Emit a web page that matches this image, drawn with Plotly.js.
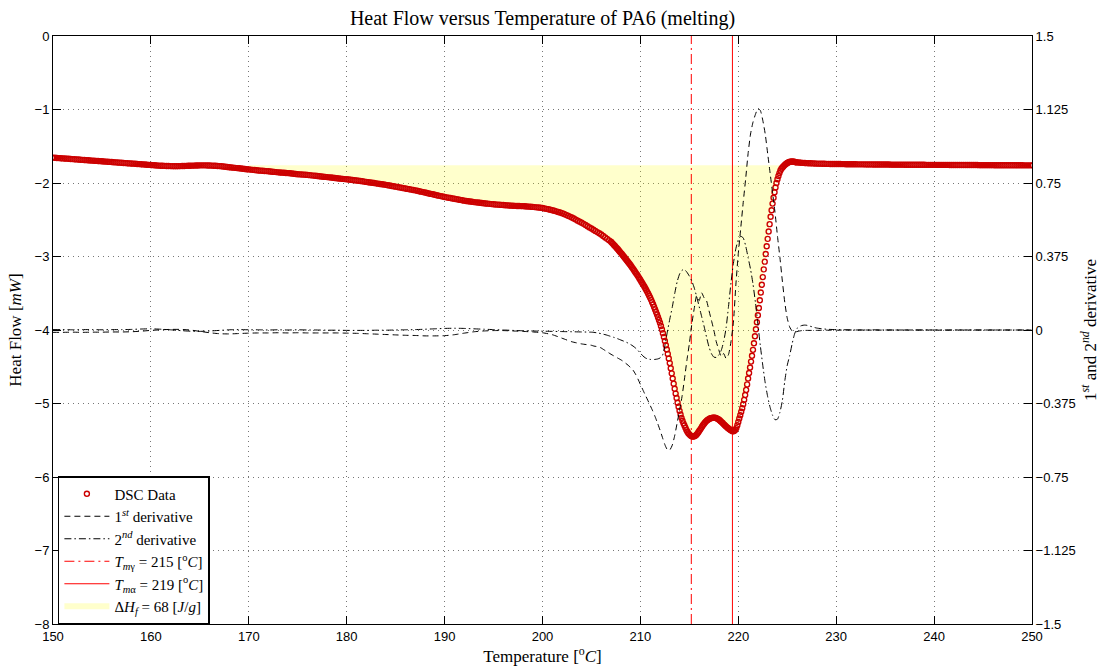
<!DOCTYPE html>
<html><head><meta charset="utf-8">
<script src="https://cdn.plot.ly/plotly-3.0.1.min.js"></script>
<style>html,body{margin:0;padding:0;background:#fff}#chart{width:1100px;height:666px}</style>
</head><body><div id="chart"></div>
<script>
// ---------- DSC heat flow [mW] ----------
// segment A: 150.0 -> 206.8 step 0.2
const dscStartA = 150, dscStepA = 0.2;
const dscHF_A = [
-1.655,-1.657,-1.659,-1.661,-1.663, -1.665,-1.667,-1.669,-1.671,-1.673,
-1.675,-1.677,-1.679,-1.681,-1.683, -1.685,-1.687,-1.689,-1.691,-1.693,
-1.695,-1.697,-1.699,-1.701,-1.703, -1.705,-1.707,-1.709,-1.711,-1.713,
-1.715,-1.717,-1.719,-1.721,-1.723, -1.725,-1.727,-1.729,-1.731,-1.733,
-1.735,-1.737,-1.739,-1.741,-1.743, -1.745,-1.747,-1.749,-1.751,-1.753,
-1.755,-1.757,-1.759,-1.761,-1.763, -1.765,-1.766,-1.767,-1.768,-1.769,
-1.770,-1.771,-1.771,-1.771,-1.771, -1.770,-1.769,-1.768,-1.767,-1.766,
-1.765,-1.764,-1.763,-1.762,-1.761, -1.760,-1.760,-1.760,-1.760,-1.761,
-1.762,-1.763,-1.765,-1.766,-1.768, -1.770,-1.773,-1.776,-1.779,-1.782,
-1.785,-1.788,-1.791,-1.794,-1.797, -1.800,-1.803,-1.806,-1.809,-1.812,
-1.815,-1.818,-1.821,-1.824,-1.827, -1.830,-1.832,-1.834,-1.836,-1.838,
-1.840,-1.843,-1.846,-1.849,-1.852, -1.855,-1.857,-1.859,-1.861,-1.863,
-1.865,-1.868,-1.871,-1.874,-1.877, -1.880,-1.882,-1.884,-1.886,-1.888,
-1.890,-1.893,-1.896,-1.899,-1.902, -1.905,-1.908,-1.911,-1.914,-1.917,
-1.920,-1.923,-1.926,-1.929,-1.932, -1.935,-1.938,-1.941,-1.944,-1.947,
-1.950,-1.953,-1.956,-1.959,-1.962, -1.965,-1.969,-1.973,-1.977,-1.981,
-1.985,-1.989,-1.993,-1.997,-2.001, -2.005,-2.009,-2.013,-2.017,-2.021,
-2.025,-2.030,-2.035,-2.040,-2.045, -2.050,-2.055,-2.060,-2.065,-2.070,
-2.075,-2.080,-2.085,-2.090,-2.095, -2.100,-2.106,-2.112,-2.118,-2.124,
-2.130,-2.136,-2.142,-2.148,-2.154, -2.160,-2.166,-2.172,-2.178,-2.184,
-2.190,-2.195,-2.200,-2.205,-2.210, -2.215,-2.220,-2.225,-2.230,-2.235,
-2.240,-2.244,-2.248,-2.252,-2.256, -2.260,-2.263,-2.266,-2.269,-2.272,
-2.275,-2.278,-2.281,-2.284,-2.287, -2.290,-2.292,-2.294,-2.296,-2.298,
-2.300,-2.302,-2.304,-2.306,-2.308, -2.310,-2.311,-2.312,-2.313,-2.314,
-2.315,-2.317,-2.319,-2.321,-2.323, -2.325,-2.328,-2.331,-2.334,-2.337,
-2.340,-2.346,-2.352,-2.358,-2.364, -2.370,-2.378,-2.386,-2.394,-2.402,
-2.410,-2.421,-2.433,-2.445,-2.457, -2.470,-2.484,-2.498,-2.512,-2.526,
-2.540,-2.556,-2.572,-2.588,-2.604, -2.620,-2.636,-2.652,-2.668,-2.684,
-2.700,-2.720,-2.740,-2.760,-2.780
];
// segment B: 207.0 -> 225.9 step 0.1
const dscStartB = 207, dscStepB = 0.1;
const dscHF_B = [
-2.800,-2.814,-2.828,-2.842,-2.857,-2.872,-2.887,-2.902,-2.918,-2.934,
-2.950,-2.966,-2.983,-3.000,-3.017,-3.034,-3.051,-3.068,-3.085,-3.102,
-3.120,-3.139,-3.158,-3.177,-3.196,-3.216,-3.236,-3.256,-3.277,-3.298,
-3.320,-3.342,-3.364,-3.386,-3.409,-3.432,-3.456,-3.481,-3.507,-3.533,
-3.560,-3.590,-3.621,-3.653,-3.686,-3.720,-3.755,-3.790,-3.826,-3.863,
-3.900,-3.945,-3.993,-4.043,-4.095,-4.150,-4.207,-4.265,-4.325,-4.387,
-4.450,-4.520,-4.590,-4.660,-4.730,-4.800,-4.865,-4.925,-4.990,-5.045,
-5.100,-5.150,-5.195,-5.235,-5.270,-5.300,-5.330,-5.360,-5.385,-5.405,
-5.420,-5.433,-5.443,-5.449,-5.450,-5.447,-5.440,-5.428,-5.413,-5.395,
-5.375,-5.355,-5.335,-5.313,-5.293,-5.275,-5.258,-5.243,-5.230,-5.220,
-5.212,-5.205,-5.200,-5.196,-5.194,-5.193,-5.194,-5.197,-5.202,-5.209,
-5.218,-5.228,-5.240,-5.253,-5.266,-5.280,-5.293,-5.306,-5.318,-5.330,
-5.340,-5.350,-5.360,-5.368,-5.376,-5.377,-5.370,-5.356,-5.335,-5.296,
-5.250,-5.205,-5.160,-5.113,-5.063,-5.010,-4.950,-4.885,-4.815,-4.740,
-4.660,-4.585,-4.510,-4.430,-4.350,-4.270,-4.180,-4.085,-3.990,-3.895,
-3.800,-3.700,-3.595,-3.490,-3.385,-3.280,-3.175,-3.070,-2.965,-2.860,
-2.760,-2.660,-2.560,-2.460,-2.370,-2.280,-2.200,-2.125,-2.060,-2.000,
-1.950,-1.905,-1.865,-1.830,-1.805,-1.790,-1.775,-1.760,-1.748,-1.738,
-1.728,-1.720,-1.715,-1.711,-1.709,-1.708,-1.709,-1.711,-1.714,-1.717
];
// segment C: 226.0 -> 250.0 step 0.2
const dscStartC = 226, dscStepC = 0.2;
const dscHF_C = [
-1.720,-1.722,-1.724,-1.726,-1.728, -1.730,-1.731,-1.732,-1.733,-1.734,
-1.736,-1.737,-1.737,-1.738,-1.739, -1.740,-1.740,-1.741,-1.741,-1.741,
-1.742,-1.742,-1.742,-1.743,-1.743, -1.744,-1.744,-1.744,-1.745,-1.745,
-1.745,-1.746,-1.746,-1.746,-1.746, -1.747,-1.747,-1.747,-1.747,-1.748,
-1.748,-1.748,-1.748,-1.749,-1.749, -1.749,-1.749,-1.749,-1.750,-1.750,
-1.750,-1.750,-1.750,-1.750,-1.750, -1.751,-1.751,-1.751,-1.751,-1.751,
-1.752,-1.752,-1.752,-1.752,-1.752, -1.752,-1.753,-1.753,-1.753,-1.753,
-1.753,-1.753,-1.754,-1.754,-1.754, -1.754,-1.754,-1.754,-1.755,-1.755,
-1.755,-1.755,-1.755,-1.755,-1.755, -1.755,-1.756,-1.756,-1.756,-1.756,
-1.756,-1.756,-1.756,-1.757,-1.757, -1.757,-1.757,-1.757,-1.757,-1.757,
-1.757,-1.758,-1.758,-1.758,-1.758, -1.758,-1.758,-1.758,-1.759,-1.759,
-1.759,-1.759,-1.759,-1.759,-1.759, -1.759,-1.760,-1.760,-1.760,-1.760,
-1.760
];

// ---------- derivatives (right axis) ----------
// A: 150 -> 205 step 1 ; B: 205.25 -> 227 step 0.25 ; C: 228 -> 250 step 1
const derStartA = 150, derStepA = 1;
const derStartB = 205.25, derStepB = 0.25;
const derStartC = 228, derStepC = 1;
const deriv1_A = [
-0.012,-0.012,-0.011,-0.012,-0.011,-0.011,-0.010,-0.010,-0.009,-0.006,
-0.002,0.001,0.003,0.003,0.000,-0.007,-0.014,-0.019,-0.020,-0.018,
-0.016,-0.015,-0.015,-0.014,-0.015,-0.014,-0.015,-0.015,-0.015,-0.015,
-0.016,-0.017,-0.019,-0.021,-0.023,-0.025,-0.027,-0.028,-0.030,-0.030,
-0.029,-0.024,-0.016,-0.009,-0.005,-0.003,-0.003,-0.005,-0.007,-0.010,
-0.014,-0.024,-0.042,-0.060,-0.071,-0.078
];
const deriv1_B = [
-0.082,-0.084,-0.086,-0.092,
-0.100,-0.108,-0.116,-0.124,
-0.131,-0.138,-0.145,-0.152,
-0.160,-0.170,-0.180,-0.192,
-0.205,-0.225,-0.250,-0.278,
-0.305,-0.332,-0.358,-0.385,
-0.412,-0.442,-0.475,-0.510,
-0.548,-0.585,-0.610,-0.612,
-0.588,-0.540,-0.475,-0.410,
-0.340,-0.250,-0.155,-0.070,
0.030,0.110,0.175,0.150,
0.190,0.165,0.150,0.100,
0.050,0.000,-0.060,-0.100,
-0.135,-0.120,-0.145,-0.125,
-0.060,0.040,0.230,0.390,
0.520,0.650,0.770,0.900,
1.000,1.060,1.100,1.130,
1.120,1.070,1.000,0.900,
0.800,0.700,0.600,0.480,
0.370,0.250,0.140,0.060,
0.015,-0.005,-0.010,-0.008,
-0.005,-0.003,-0.002,-0.002
];
const deriv1_C = [
-0.002,-0.001,-0.001,0.000,0.000,0.000,-0.001,0.000,0.000,0.000,
0.000,0.000,0.000,-0.001,0.000,0.000,0.000,0.000,0.000,0.000,
0.000,0.000,0.000
];
const deriv2_A = [
0.002,0.002,0.001,0.002,0.002,0.001,0.002,0.002,0.003,0.005,
0.006,0.004,0.001,-0.003,-0.006,-0.007,-0.005,-0.002,0.001,0.002,
0.001,0.001,0.000,0.001,0.000,0.001,0.000,0.000,-0.001,-0.001,
-0.002,-0.002,-0.002,-0.001,-0.001,0.000,0.001,0.002,0.004,0.006,
0.008,0.009,0.008,0.006,0.004,0.002,0.000,-0.002,-0.004,-0.005,
-0.006,-0.007,-0.008,-0.009,-0.010,-0.011
];
const deriv2_B = [
-0.012,-0.014,-0.016,-0.019,
-0.022,-0.025,-0.029,-0.033,
-0.037,-0.041,-0.046,-0.051,
-0.056,-0.061,-0.067,-0.074,
-0.082,-0.092,-0.104,-0.118,
-0.132,-0.142,-0.148,-0.150,
-0.151,-0.150,-0.148,-0.143,
-0.130,-0.080,-0.010,0.055,
0.115,0.185,0.245,0.285,
0.305,0.308,0.295,0.275,
0.250,0.215,0.170,0.120,
0.070,0.020,-0.035,-0.085,
-0.120,-0.138,-0.140,-0.128,
-0.105,-0.060,0.010,0.120,
0.240,0.340,0.415,0.460,
0.478,0.470,0.430,0.370,
0.310,0.235,0.140,0.030,
-0.080,-0.180,-0.270,-0.340,
-0.395,-0.435,-0.458,-0.455,
-0.420,-0.360,-0.260,-0.180,
-0.130,-0.070,-0.020,0.008,
0.018,0.023,0.025,0.024
];
const deriv2_C = [
0.010,0.004,0.002,0.001,0.000,0.000,0.001,0.000,0.000,0.000,
0.000,0.000,0.000,0.000,0.000,0.000,0.000,0.000,0.000,0.000,
0.000,0.000,0.000
];

// ---------- analysis results ----------
const meltTempGamma = 215.2;   // T_m,gamma [°C]
const meltTempAlpha = 219.4;   // T_m,alpha [°C]
const enthalpyFusion = 68;     // ΔH_f [J/g]
const fillStartT = 170, fillEndT = 225, fillBaseHF = -1.76;
const heatFlowRange = [-8, 0];
const derivRange = [-1.5, 1.5];
const derivTicks = [-1.5, -1.125, -0.75, -0.375, 0, 0.375, 0.75, 1.125, 1.5];

function grid(start, step, n) {
  return Array.from({length: n}, (_, i) => +(start + i * step).toFixed(4));
}
const dscT = [].concat(grid(dscStartA, dscStepA, dscHF_A.length),
                       grid(dscStartB, dscStepB, dscHF_B.length),
                       grid(dscStartC, dscStepC, dscHF_C.length));
const dscHF = [].concat(dscHF_A, dscHF_B, dscHF_C);
const derT = [].concat(grid(derStartA, derStepA, deriv1_A.length),
                       grid(derStartB, derStepB, deriv1_B.length),
                       grid(derStartC, derStepC, deriv1_C.length));
const deriv1 = [].concat(deriv1_A, deriv1_B, deriv1_C);
const deriv2 = [].concat(deriv2_A, deriv2_B, deriv2_C);

// fill polygon between curve and baseline
const fx = [], fy = [];
dscT.forEach((t, i) => { if (t >= fillStartT && t <= fillEndT) { fx.push(t); fy.push(dscHF[i]); } });
fx.push(fillEndT, fillStartT); fy.push(fillBaseHF, fillBaseHF);

const serif = 'Liberation Serif, DejaVu Serif, serif';
const sans = 'Liberation Sans, Arial, sans-serif';
const red = '#ff0000';

const traces = [
  {x: fx, y: fy, type: 'scatter', mode: 'none', fill: 'toself',
   fillcolor: 'rgba(255,255,0,0.2)', legendrank: 6,
   name: 'Δ<i>H<sub>f</sub></i> = ' + enthalpyFusion + ' [<i>J</i>/<i>g</i>]'},
  {x: [meltTempGamma, meltTempGamma], y: heatFlowRange, type: 'scatter', mode: 'lines',
   line: {color: red, width: 1, dash: '10px,4px,2px,4px'}, legendrank: 4,
   name: '<i>T</i><sub><i>m</i>γ</sub> = ' + Math.round(meltTempGamma) + ' [<sup>o</sup><i>C</i>]'},
  {x: [meltTempAlpha, meltTempAlpha], y: heatFlowRange, type: 'scatter', mode: 'lines',
   line: {color: red, width: 1}, legendrank: 5,
   name: '<i>T</i><sub><i>m</i>α</sub> = ' + Math.round(meltTempAlpha) + ' [<sup>o</sup><i>C</i>]'},
  {x: dscT, y: dscHF, type: 'scatter', mode: 'markers', name: 'DSC Data', legendrank: 1,
   marker: {symbol: 'circle-open', size: 5, color: '#cc0000', line: {width: 1.4, color: '#cc0000'}}},
  {x: derT, y: deriv1, yaxis: 'y2', type: 'scatter', mode: 'lines', legendrank: 2,
   line: {color: '#000', width: 1, dash: '6px,4px', shape: 'spline', smoothing: 0.6},
   name: '1<sup><i>st</i></sup> derivative'},
  {x: derT, y: deriv2, yaxis: 'y2', type: 'scatter', mode: 'lines', legendrank: 3,
   line: {color: '#000', width: 1, dash: '7px,3px,1.5px,3px', shape: 'spline', smoothing: 0.6},
   name: '2<sup><i>nd</i></sup> derivative'}
];

const axisCommon = {
  ticks: 'inside', ticklen: 8, tickwidth: 1, tickcolor: '#000',
  showline: true, linecolor: '#000', linewidth: 1, zeroline: false,
  tickfont: {family: sans, size: 13, color: '#000'}
};

const layout = {
  width: 1100, height: 666,
  margin: {l: 53, r: 68, t: 36, b: 42},
  paper_bgcolor: '#fff', plot_bgcolor: '#fff',
  showlegend: true, hovermode: false,
  title: {text: 'Heat Flow versus Temperature of PA6 (melting)',
          font: {family: serif, size: 20, color: '#000'},
          x: 0.5, xref: 'paper', y: 0.973, yref: 'container', yanchor: 'middle'},
  xaxis: Object.assign({}, axisCommon, {
    range: [150, 250], tick0: 150, dtick: 10, mirror: 'ticks',
    showgrid: true, gridcolor: '#777', gridwidth: 1, griddash: '1px,4px',
    title: {text: 'Temperature [<sup>o</sup><i>C</i>]', font: {family: serif, size: 17, color: '#000'}, standoff: 4}
  }),
  yaxis: Object.assign({}, axisCommon, {
    range: heatFlowRange, dtick: 1, tick0: 0,
    showgrid: true, gridcolor: '#777', gridwidth: 1, griddash: '1px,4px',
    title: {text: 'Heat Flow [<i>mW</i>]', font: {family: serif, size: 17, color: '#000'}, standoff: 8}
  }),
  yaxis2: Object.assign({}, axisCommon, {
    overlaying: 'y', side: 'right', range: derivRange,
    tickmode: 'array', tickvals: derivTicks, ticktext: derivTicks.map(v => String(v).replace('-', '\u2212')),
    showgrid: false,
    title: {text: '1<sup><i>st</i></sup> and 2<sup><i>nd</i></sup> derivative', font: {family: serif, size: 17, color: '#000'}, standoff: 10}
  }),
  legend: {x: 0.005, y: 0.0, xanchor: 'left', yanchor: 'bottom',
           bgcolor: '#fff', bordercolor: '#000', borderwidth: 1.5,
           font: {family: serif, size: 15, color: '#000'}, itemwidth: 45,
           traceorder: 'normal', tracegroupgap: 0}
};

Plotly.newPlot('chart', traces, layout, {displayModeBar: false, staticPlot: true});
</script></body></html>
